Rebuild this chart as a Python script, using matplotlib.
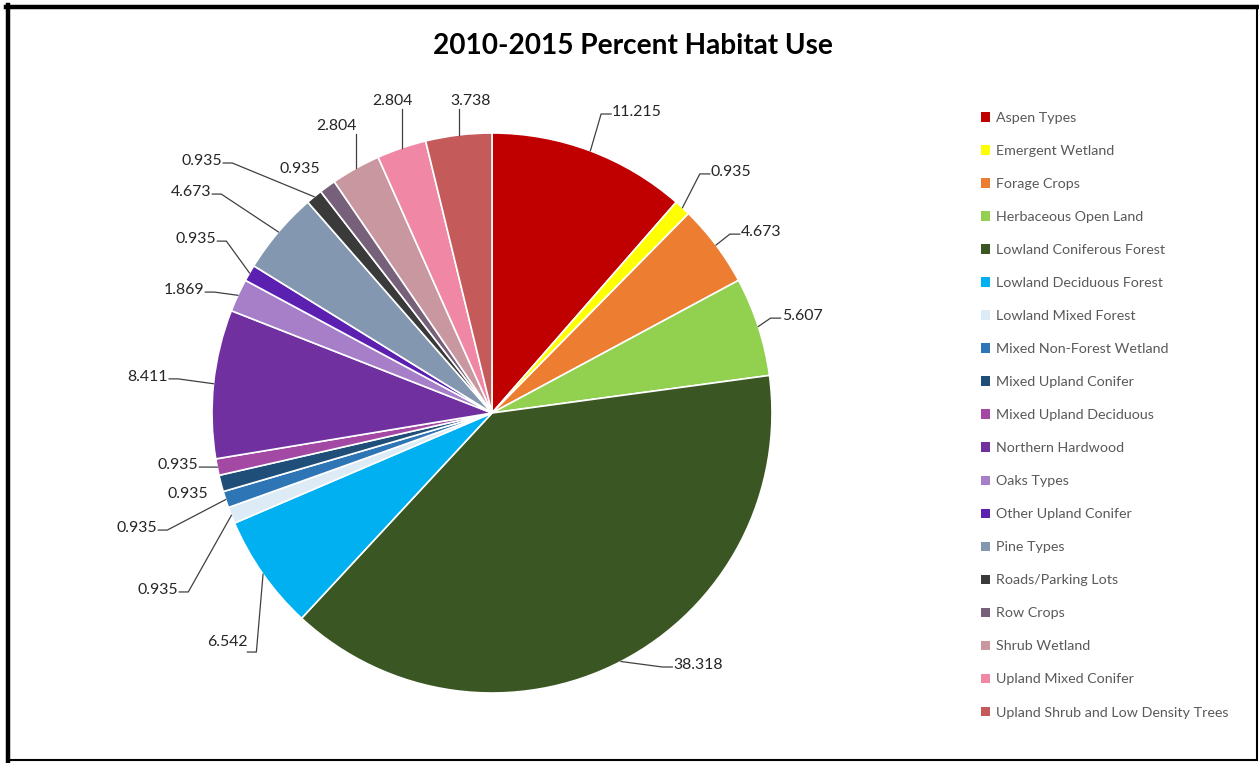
import numpy as np
import matplotlib.pyplot as plt
import matplotlib.patches as patches
from matplotlib.lines import Line2D

# habitat categories, clockwise from 12 o'clock
habitats = ['Aspen Types', 'Emergent Wetland', 'Forage Crops', 'Herbaceous Open Land',
            'Lowland Coniferous Forest', 'Lowland Deciduous Forest', 'Lowland Mixed Forest',
            'Mixed Non-Forest Wetland', 'Mixed Upland Conifer', 'Mixed Upland Deciduous',
            'Northern Hardwood', 'Oaks Types', 'Other Upland Conifer', 'Pine Types',
            'Roads/Parking Lots', 'Row Crops', 'Shrub Wetland', 'Upland Mixed Conifer',
            'Upland Shrub and Low Density Trees']
percent = [11.215, 0.935, 4.673, 5.607, 38.318, 6.542, 0.935, 0.935, 0.935, 0.935,
           8.411, 1.869, 0.935, 4.673, 0.935, 0.935, 2.804, 2.804, 3.738]
colors = ['#C00000', '#FFFF00', '#ED7D31', '#92D050', '#3A5623', '#00B0F0', '#DDEBF7',
          '#2E75B6', '#1F4E79', '#A349A4', '#7030A0', '#A67FC8', '#5B20B0', '#8497B0',
          '#3A3A3A', '#76607A', '#C9979F', '#F087A4', '#C55A5A']

# data label placement (pie radius = 1) and leader style
label_xy = [(0.518, 1.075), (0.854, 0.861), (0.961, 0.646), (1.107, 0.346),
            (0.736, -0.900), (-0.946, -0.818), (-1.193, -0.632), (-1.268, -0.411),
            (-1.086, -0.289), (-1.121, -0.186), (-1.229, 0.129), (-1.100, 0.439),
            (-1.057, 0.621), (-1.075, 0.789), (-1.036, 0.900), (-0.686, 0.871),
            (-0.554, 1.025), (-0.354, 1.114), (-0.075, 1.114)]
leader = ['r', 'r', 'r', 'r', 'r', 'lb', 'l', 'l', None, 'l', 'l', 'l',
          'l', 'l', 'l', None, 'up', 'up', 'up']

plt.rcParams['font.family'] = ['Lato', 'DejaVu Sans']

W, H = 1259, 763
R_PX = 280.0
cx, cy = 492, 413
half = 340
fig = plt.figure(figsize=(W / 100, H / 100), dpi=100)
ax = fig.add_axes([(cx - half) / W, (H - cy - half) / H, 2 * half / W, 2 * half / H])

wedges, _ = ax.pie(percent, colors=colors, startangle=90, counterclock=False,
                   radius=1, wedgeprops=dict(edgecolor='white', linewidth=1.2))
lim = half / R_PX
ax.set_xlim(-lim, lim)
ax.set_ylim(-lim, lim)
ax.set_aspect('equal')
ax.axis('off')

texts = []
for val, (tx, ty) in zip(percent, label_xy):
    t = ax.text(tx, ty, f'{val:.3f}', ha='center', va='center', fontsize=11.4,
                color='#262626')
    texts.append(t)

fig.canvas.draw()
renderer = fig.canvas.get_renderer()
inv = ax.transData.inverted()
px = 1 / R_PX

for w, t, kind in zip(wedges, texts, leader):
    if kind is None:
        continue
    mid = np.deg2rad((w.theta1 + w.theta2) / 2)
    sx, sy = np.cos(mid), np.sin(mid)
    bb = t.get_window_extent(renderer)
    (x0, y0), (x1, y1) = inv.transform([(bb.x0, bb.y0), (bb.x1, bb.y1)])
    ym = (y0 + y1) / 2 - 2 * px
    if kind == 'r':
        xs = [sx, x0 - 11 * px, x0 - 1 * px]
        ys = [sy, ym, ym]
    elif kind == 'l':
        xs = [sx, x1 + 10 * px, x1 + 1 * px]
        ys = [sy, ym, ym]
    elif kind == 'lb':
        yb = y0 - 3 * px
        xs = [sx, x1 + 9 * px, x1]
        ys = [sy, yb, yb]
    else:  # 'up'
        xs = [sx, sx]
        ys = [sy, y0 - 1 * px]
    ax.add_line(Line2D(xs, ys, color='#404040', lw=0.9))

fig.text(633 / W, 1 - 46 / H, '2010-2015 Percent Habitat Use', ha='center', va='center',
         fontsize=20.2, fontweight='bold', color='black')

handles = [patches.Patch(facecolor=c, edgecolor='none') for c in colors]
fig.legend(handles, habitats, loc='upper left', bbox_to_anchor=(981 / W, 1 - 112 / H),
           frameon=False, fontsize=10.3, labelcolor='#595959', handlelength=0.65,
           handleheight=0.65, handletextpad=0.4, labelspacing=1.47, borderaxespad=0,
           borderpad=0)

# chart frame
frame = patches.Rectangle((8 / W, 1 - 760 / H), 1249 / W, 753 / H, transform=fig.transFigure,
                          fill=False, edgecolor='black', lw=1.5)
fig.patches.append(frame)
fig.add_artist(Line2D([8 / W, 8 / W], [1 - 761 / H, 1 - 5 / H], transform=fig.transFigure,
                      color='black', lw=3.2))
fig.add_artist(Line2D([6 / W, 1258 / W], [1 - 7 / H, 1 - 7 / H], transform=fig.transFigure,
                      color='black', lw=3.2))

fig.savefig('out.png', dpi=100)
